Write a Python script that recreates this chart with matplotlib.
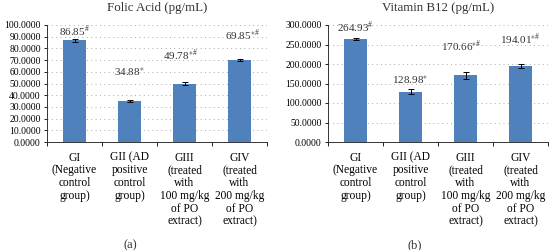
import matplotlib
matplotlib.use("Agg")
import matplotlib.pyplot as plt
import numpy as np

plt.rcParams['font.family'] = ['Liberation Serif', 'DejaVu Serif']
plt.rcParams['mathtext.fontset'] = 'custom'
plt.rcParams['mathtext.rm'] = 'Liberation Serif'

groups = ["GI\n(Negative\ncontrol\ngroup)",
          "GII (AD\npositive\ncontrol\ngroup)",
          "GIII\n(treated\nwith\n100 mg/kg\nof PO\nextract)",
          "GIV\n(treated\nwith\n200 mg/kg\nof PO\nextract)"]

folic = [86.85, 34.88, 49.78, 69.85]
folic_err = [1.3, 1.0, 1.1, 0.8]
folic_marks = ["#", "*", "*#", "*#"]
folic_label_y = [95, 60, 74, 91]

b12 = [264.93, 128.98, 170.66, 194.01]
b12_err = [3.0, 6.0, 8.0, 5.0]
b12_marks = ["#", "*", "*#", "*#"]
b12_label_y = [295, 159, 244, 264]

bar_color = "#4F81BD"

fig = plt.figure(figsize=(5.49, 2.5), dpi=100)


def panel(rect, vals, errs, marks, label_y, ymax, step, title, cap, cap_x, title_x, dx):
    ax = fig.add_axes(rect)
    x = np.arange(len(vals))
    ax.bar(x, vals, width=0.42, color=bar_color, zorder=3,
           yerr=errs, error_kw=dict(ecolor="black", elinewidth=0.7, capsize=2, capthick=0.7, zorder=4))
    for i, v in enumerate(vals):
        m = marks[i].replace("#", r"\#").replace("*", r"\ast")
        ax.text(x[i] + dx[i], label_y[i], f"{v:.2f}$^{{\\mathrm{{{m}}}}}$", ha="center", va="center",
                fontsize=8, color="#333333")
    ax.set_xlim(-0.5, len(vals) - 0.5)
    ax.set_ylim(0, ymax)
    ticks = np.arange(0, ymax + step / 2, step)
    ax.set_yticks(ticks)
    ax.set_yticklabels([f"{t:.4f}" for t in ticks], fontsize=6.9)
    ax.yaxis.grid(True, linestyle=(0, (1, 3.5)), color="#aaaaaa", linewidth=0.7, zorder=0)
    ax.set_xticks(np.arange(-0.5, len(vals)))
    ax.set_xticklabels([])
    ax.set_xticks(x, minor=True)
    ax.set_xticklabels(groups, minor=True, fontsize=8.3, linespacing=1.08, va="top")
    ax.tick_params(axis="x", which="major", length=3, width=0.6, direction="out")
    ax.tick_params(axis="x", which="minor", length=0, pad=7)
    ax.tick_params(axis="y", length=2.5, width=0.6, pad=2)
    for s in ["top", "right"]:
        ax.spines[s].set_visible(False)
    for s in ["left", "bottom"]:
        ax.spines[s].set_linewidth(0.7)
        ax.spines[s].set_color("#333333")
    fig.text(title_x, 1 - 8 / 250, title, ha="center", va="center", fontsize=9.3, color="#333333")
    fig.text(cap_x, 5 / 250, cap, ha="center", va="center", fontsize=9, color="#333333")
    return ax


panel([47 / 549, 108 / 250, 220 / 549, 117 / 250], folic, folic_err, folic_marks, folic_label_y,
      100, 10, "Folic Acid (pg/mL)", "(a)", 130 / 549, 157 / 549, [0, 0, -0.08, 0.05])
panel([328 / 549, 108 / 250, 220 / 549, 117 / 250], b12, b12_err, b12_marks, b12_label_y,
      300, 50, "Vitamin B12 (pg/mL)", "(b)", 415 / 549, 438 / 549, [0, 0, -0.08, 0.0])

fig.savefig("out.png", dpi=100)
